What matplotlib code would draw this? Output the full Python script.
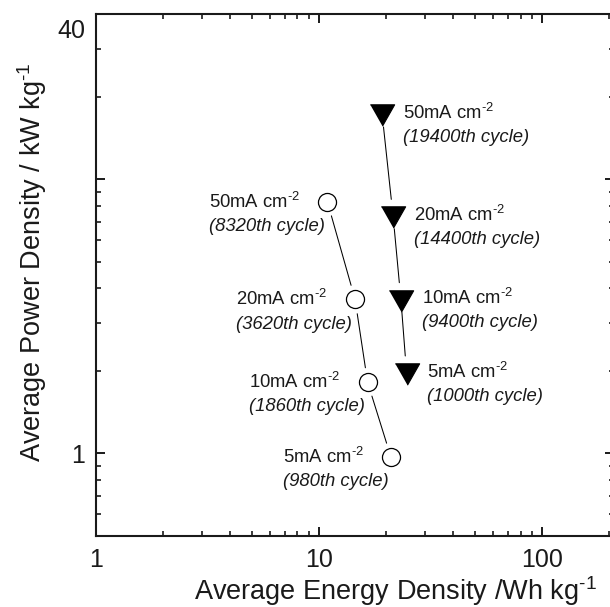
import matplotlib
matplotlib.use('Agg')
import matplotlib.pyplot as plt
from matplotlib.ticker import LogLocator, NullFormatter, FixedLocator, FixedFormatter

plt.rcParams['font.family'] = ['Liberation Sans', 'DejaVu Sans']
plt.rcParams['mathtext.fontset'] = 'custom'
plt.rcParams['mathtext.rm'] = 'Liberation Sans'
plt.rcParams['mathtext.it'] = 'Liberation Sans:italic'
plt.rcParams['mathtext.bf'] = 'Liberation Sans:bold'

# ---------------- data ----------------
currents = ['50', '20', '10', '5']                 # mA cm^-2
circle_energy = [10.9, 14.5, 16.5, 21.0]           # Wh kg^-1
circle_power = [8.28, 3.65, 1.82, 0.97]            # kW kg^-1
circle_cycles = ['8320', '3620', '1860', '980']
tri_energy = [19.2, 21.5, 23.3, 24.7]
tri_power = [17.1, 7.27, 3.61, 1.95]
tri_cycles = ['19400', '14400', '9400', '1000']
x_ticks = [1, 10, 100]
x_ticklabels = ['1', '10', '100']
y_ticks = [1, 10]
y_ticklabels = ['1', '']
x_limits = (1, 210)
y_limits = (0.5, 40)

INK = '#1a1a1a'
HY = '\u2010'

fig = plt.figure(figsize=(6.1, 6.07), dpi=100)
ax = fig.add_axes([96 / 610, 71 / 607, 518 / 610, 521.7 / 607])
ax.set_xscale('log')
ax.set_yscale('log')
ax.set_xlim(*x_limits)
ax.set_ylim(*y_limits)


def connect(xs, ys, sa, sb):
    for i in range(len(xs) - 1):
        ax.annotate('', xy=(xs[i + 1], ys[i + 1]), xytext=(xs[i], ys[i]),
                    xycoords='data', textcoords='data',
                    arrowprops=dict(arrowstyle='-', color='black', lw=0.75,
                                    shrinkA=sa, shrinkB=sb), zorder=2)


connect(circle_energy, circle_power, 10.5, 10.5)
connect(tri_energy, tri_power, 8.3, 13)

ax.plot(circle_energy, circle_power, linestyle='none', marker='o', ms=13,
        mfc='white', mec='black', mew=0.9, zorder=3, clip_on=False)
tri_marker = [(-1, 0.88), (1, 0.88), (0, -0.88)]
ax.plot(tri_energy, tri_power, linestyle='none', marker=tri_marker, ms=17.5,
        mfc='black', mec='black', mew=0.8, zorder=3, clip_on=False)

fs = 13.3
for x, y, c, cyc in zip(circle_energy, circle_power, currents, circle_cycles):
    t2 = ax.annotate(f'({cyc}th cycle)', xy=(x, y), xytext=(-2, -21),
                     textcoords='offset points', ha='right', va='baseline',
                     fontsize=fs, style='italic', color=INK)
    ax.annotate(f'{c}mA cm$^{{{HY}2}}$', xy=(0, 0), xycoords=t2, xytext=(0, 19.5),
                textcoords='offset points', ha='left', va='baseline',
                fontsize=fs, color=INK)

for x, y, c, cyc in zip(tri_energy, tri_power, currents, tri_cycles):
    t2 = ax.annotate(f'({cyc}th cycle)', xy=(x, y), xytext=(14.8, -19.3),
                     textcoords='offset points', ha='left', va='baseline',
                     fontsize=fs, style='italic', color=INK)
    ax.annotate(f'{c}mA cm$^{{{HY}2}}$', xy=(0, 0), xycoords=t2, xytext=(0, 19.5),
                textcoords='offset points', ha='left', va='baseline',
                fontsize=fs, color=INK)

# ticks
ax.xaxis.set_major_locator(FixedLocator(x_ticks))
ax.xaxis.set_major_formatter(FixedFormatter(x_ticklabels))
ax.xaxis.set_minor_locator(LogLocator(base=10, subs=range(2, 10), numticks=20))
ax.xaxis.set_minor_formatter(NullFormatter())
ax.yaxis.set_major_locator(FixedLocator(y_ticks))
ax.yaxis.set_major_formatter(FixedFormatter(y_ticklabels))
ax.yaxis.set_minor_locator(LogLocator(base=10, subs=range(2, 10), numticks=20))
ax.yaxis.set_minor_formatter(NullFormatter())

ax.tick_params(which='both', direction='in', top=True, right=True, colors=INK)
ax.tick_params(which='major', length=6.5, width=1.4, labelsize=18)
ax.tick_params(axis='x', which='major', pad=8.5)
ax.tick_params(axis='y', which='major', pad=8)
ax.tick_params(which='minor', length=3.6, width=1.2)
for s in ax.spines.values():
    s.set_linewidth(1.5)
    s.set_color(INK)

# top label "40" of the y axis
ax.annotate('40', xy=(0, y_limits[1]), xycoords=('axes fraction', 'data'),
            xytext=(-8, -12), textcoords='offset points', ha='right', va='center',
            fontsize=18, color=INK, annotation_clip=False)

ax.set_xlabel(f'Average Energy Density /Wh kg$^{{{HY}1}}$', fontsize=19.5, color=INK)
ax.set_ylabel(f'Average Power Density / kW kg$^{{{HY}1}}$', fontsize=19.5, color=INK)
ax.xaxis.set_label_coords(0.578, -0.074)
ax.yaxis.set_label_coords(-0.0907, 0.525)

fig.savefig('out.png', dpi=100)
